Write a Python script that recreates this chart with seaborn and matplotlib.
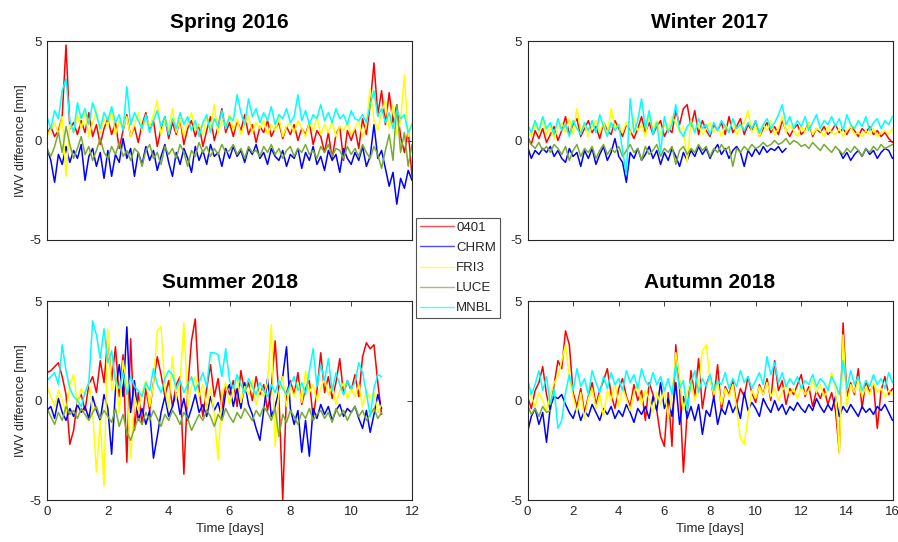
import numpy as np
import pandas as pd
import matplotlib
matplotlib.use("Agg")
import matplotlib.pyplot as plt
from matplotlib.lines import Line2D
import seaborn as sns

STATIONS = ["0401", "CHRM", "FRI3", "LUCE", "MNBL"]
COLORS = ["#ff0000", "#0000ff", "#ffff00", "#77ac30", "#00ffff"]

# ---- Spring 2016 (3-hourly, 12 days) ----
spring_days = np.linspace(0, 12, 97)
spring_0401 = [0.3, 0.7, 0.2, 0.5, 1.2, 4.8, 0.6, 0.9, 0.3,
               1.0, 0.4, 1.4, 0.2, 0.8, -0.2, 0.6, 1.1,
               0.3, 0.9, -0.4, 0.5, 1.3, 0.2, 0.7, -0.1,
               0.8, 1.4, 0.5, 1.0, -0.3, 0.6, 1.2, 0.1,
               0.9, 0.3, 1.1, -0.2, 0.6, 1.0, 0.2, 0.8,
               -0.3, 0.5, 1.2, 0.0, 0.7, 1.6, 0.4, 0.9,
               0.2, 1.0, 0.5, 1.3, 0.3, 0.8, -0.1, 0.7,
               0.4, 1.0, 0.2, 0.6, 0.9, 0.1, 0.7, 0.3,
               0.8, 0.0, 0.6, 0.3, 0.9, -0.2, 0.5, 0.2,
               -0.6, 0.4, -0.9, 0.3, 0.7, -1.0, 0.5, 0.0,
               0.6, -0.4, 1.1, 0.3, 1.8, 3.9, 1.3, 2.5,
               0.8, 2.4, 0.9, 1.8, 0.2, -0.6, 0.5, -1.8]
spring_CHRM = [-0.4, -1.0, -2.1, -0.7, -1.2, -0.3, -1.1, -0.5, -0.9,
               -0.2, -2.0, -0.8, -0.4, -1.3, -0.6, -1.9, -0.5,
               -1.8, -0.7, -1.1, 0.1, -0.9, -0.4, -1.8, -0.6,
               -1.2, -0.3, -1.0, -0.5, -1.5, -0.8, -0.2, -1.1,
               -1.8, -0.6, -1.2, -0.4, -0.9, -1.6, -0.3, -1.0,
               -0.5, -1.2, -0.2, -0.8, -0.6, -1.3, -0.4, -0.9,
               -0.3, -0.8, -0.5, -1.1, -0.4, -0.7, -0.2, -0.9,
               -0.6, -1.2, -0.4, -0.8, -1.0, -0.5, -1.3, -0.7,
               -0.9, -0.4, -1.4, -0.6, -1.0, -0.3, -1.2, -0.8,
               -1.5, -0.5, -1.0, -0.7, -1.6, -0.4, -0.9, -1.2,
               -0.6, -1.0, -0.3, -1.3, -0.8, 0.8, -0.9, -0.5,
               -1.4, -2.3, -1.6, -3.2, -1.9, -2.4, -1.5, -2.0]
spring_FRI3 = [0.2, 0.6, 0.9, 0.3, 1.2, -1.8, 0.8, 0.4, 1.3,
               0.6, 1.4, 0.2, 0.9, 1.5, 0.4, 1.1, 0.7,
               1.5, 0.3, 1.0, 0.6, 1.2, 0.2, 0.8, 1.4,
               0.5, 1.2, 0.7, 1.3, 2.0, 0.3, 1.0, 0.6,
               1.6, 0.4, 1.1, 0.2, 0.9, 1.4, 0.5, 0.8,
               0.3, 1.2, 0.6, 1.8, 0.4, 1.0, 0.7, 1.3,
               0.5, 1.1, 0.3, 0.8, 1.2, 0.4, 0.9, 0.6,
               1.0, 0.3, 0.8, 0.5, 1.1, 0.2, 0.7, 0.9,
               0.4, 1.0, 0.6, 0.2, 0.9, 0.5, 1.2, 0.3,
               0.8, 0.4, 1.0, 0.2, 0.7, 0.5, 0.9, 0.3,
               0.6, 1.0, 0.2, 0.8, 2.6, 1.0, 0.5, 1.4,
               2.0, 0.6, 1.8, 0.3, 1.0, 3.3, 0.2, 0.9]
spring_LUCE = [-0.4, -0.8, -0.3, 0.4, -0.6, 0.7, -0.2, -0.9, -0.4,
               0.2, -0.7, -0.3, -1.0, -0.5, 0.1, -0.6, -0.9,
               -0.3, -0.7, -0.1, -0.8, -0.5, -1.0, -0.4, -0.6,
               -1.3, -0.5, -0.2, -0.9, -0.6, -1.2, -0.3, -0.7,
               -0.4, -0.9, -0.2, -0.6, -1.3, -0.5, -0.8, -0.1,
               -0.6, -0.3, -0.8, -0.4, -0.7, -0.2, -0.6, -0.5,
               -0.2, -0.7, -0.4, -0.9, -0.3, -0.6, -0.5, -0.8,
               -0.3, -0.6, -0.2, -0.7, -0.4, -0.9, -0.5, -0.3,
               -0.8, -0.4, -0.6, -0.2, -0.7, -0.5, -0.9, -0.3,
               -0.6, -0.2, -0.8, -0.4, -0.5, -0.9, -0.3, -0.7,
               -0.4, -0.8, -0.2, -0.6, -0.9, -0.3, -0.7, -1.4,
               -0.5, 0.3, -1.0, 1.8, -0.6, 0.4, -1.3, -0.2]
spring_MNBL = [1.2, 0.6, 1.5, 1.1, 2.5, 3.1, 1.0, 0.4, 1.9,
               1.1, 1.6, 0.8, 1.9, 1.3, 0.6, 1.4, 1.0,
               1.7, 0.9, 1.3, 0.5, 2.7, 0.8, 1.4, 1.0,
               0.6, 1.3, 0.4, 1.0, 1.5, 0.7, 1.2, 0.3,
               1.1, 0.6, 1.4, 0.8, 1.2, 0.5, 1.0, 0.2,
               0.9, 1.3, 0.4, 1.1, 0.7, 1.5, 0.6, 1.2,
               1.0, 2.3, 1.4, 0.8, 2.1, 1.2, 1.6, 0.9,
               1.4, 1.0, 1.7, 0.8, 1.3, 1.1, 1.6, 0.9,
               1.2, 2.3, 1.0, 1.5, 0.8, 1.3, 1.1, 1.8,
               1.0, 1.4, 0.9, 1.6, 1.1, 1.3, 0.8, 1.5,
               1.1, 1.0, 1.3, 0.9, 1.8, 2.5, 1.2, 1.6,
               0.9, 1.4, 0.6, 1.5, 1.1, 1.3, 0.4, 0.8]

# ---- Winter 2017 (16 days); CHRM has a data gap ----
winter_days = np.linspace(0, 16, 97)
winter_0401 = [0.2, -0.2, 0.5, 0.1, 0.6, -0.1, 0.3, 0.7, 0.0,
               0.5, 1.2, 0.3, 0.8, 1.1, 0.2, 0.6, 1.0,
               0.4, 0.7, 0.1, 0.9, 0.5, 0.3, 1.0, 0.6,
               0.2, 0.8, 0.5, 0.1, 0.6, 1.2, 0.4, 0.9,
               0.3, 0.7, 1.0, 0.2, 0.6, 0.4, 1.5, 0.8,
               1.6, 1.8, 0.7, 1.5, 0.3, 1.0, 0.5, 0.2,
               0.8, 0.5, 0.9, 0.3, 1.2, 0.4, 0.7, 1.1,
               0.3, 0.8, 0.5, 1.0, 0.2, 0.6, 0.9, 0.4,
               0.7, 0.3, 1.0, 0.5, 0.2, 0.6, 0.8, 0.3,
               0.5, 0.9, 0.2, 0.6, 0.4, 0.7, 0.3, 0.5,
               0.8, 0.4, 0.6, 0.3, 0.7, 0.5, 0.2, 0.6,
               0.4, 0.7, 0.3, 0.5, 0.2, 0.4, 0.1, -0.1]
winter_CHRM = [-0.3, -0.9, -0.5, -0.7, -0.4, -0.6, -0.3, -0.8, -0.5,
               -0.9, -1.1, -0.4, -0.8, -0.6, -1.3, -0.5, -0.9,
               -0.4, -1.2, -0.7, -0.3, -1.0, -0.6, 0.1, -0.8,
               -1.1, -2.1, -0.6, -0.9, -0.4, -1.0, -0.7, -0.3,
               -0.9, -0.5, -1.2, -0.6, -1.0, -0.4, -0.8, -1.3,
               -0.6, -1.0, -0.5, -0.8, -0.3, -0.7, -0.4, -0.9,
               -0.5, -0.2, -0.7, -0.4, -0.9, -0.5, -0.3, -0.6,
               -1.3, -0.5, -0.8, -0.4, -0.7, -0.3, -0.6, -0.4,
               -0.5, -0.3, -0.6, -0.4,
               np.nan, np.nan, np.nan, np.nan, np.nan, np.nan, np.nan,
               np.nan, np.nan, np.nan, np.nan, np.nan, np.nan,
               -0.5, -0.9, -0.6, -1.0, -0.7, -0.5, -0.8,
               -0.4, -0.7, -0.5, -0.9, -0.6, -0.4, -0.5, -0.9]
winter_FRI3 = [0.5, 0.2, 0.8, 0.4, 1.0, 0.3, 0.7, 0.1, 0.6,
               0.9, 0.4, 1.1, 0.3, 1.6, 0.5, 0.8, 0.2,
               0.7, 1.0, 0.4, 0.9, 0.3, 1.6, 0.6, 0.8,
               0.4, 0.9, 0.3, 1.1, 0.5, 0.8, 0.2, 1.3,
               0.6, 1.0, 0.3, 0.8, 0.5, 1.2, 0.9, 0.4,
               0.7, -1.1, 1.0, 0.5, 0.8, 0.3, 0.6, 0.9,
               0.4, 0.7, 0.2, 0.8, 0.5, 1.0, 0.3, 0.6,
               0.9, 1.5, 0.4, 0.7, 0.2, 0.8, 0.5, 1.0,
               0.3, 0.6, 1.2, 0.4, 0.8, 0.5, 0.2, 0.7,
               0.4, 0.9, 0.3, 0.6, 0.5, 0.2, 0.7, 0.4,
               0.3, 0.6, 0.2, 0.5, 0.7, 0.3, 0.4, 0.2,
               0.5, 0.3, 0.6, 0.2, 0.4, 0.5, 0.3, 0.6]
winter_LUCE = [0.1, -0.2, -0.4, -0.1, -0.5, -0.3, -0.6, -0.2, -0.4,
               -0.7, -0.3, -1.0, -0.5, -0.2, -0.8, -0.4, -0.6,
               -0.3, -0.9, -0.5, -0.2, -0.7, -0.4, -0.6, -0.3,
               -0.8, -0.5, -0.2, -0.6, -0.4, -1.0, -0.3, -0.7,
               -0.5, -0.2, -0.8, -0.4, -0.6, -0.3, -1.2, -0.5,
               -0.3, -0.7, -0.4, -0.6, -0.2, -0.5, -0.3, -0.8,
               -0.4, -0.6, -0.2, -0.5, -0.3, -1.3, -0.4, -0.6,
               -0.3, -0.5, -0.2, -0.4, -0.3, -0.1, -0.3, -0.2,
               0.0, -0.2, -0.1, 0.1, -0.2, 0.0, -0.1, -0.3,
               -0.2, -0.4, -0.1, -0.3, -0.5, -0.2, -0.4, -0.6,
               -0.3, -0.5, -0.7, -0.4, -0.6, -0.3, -0.5, -0.8,
               -0.4, -0.6, -0.3, -0.5, -0.2, -0.4, -0.3, -0.2]
winter_MNBL = [0.8, 0.4, 1.0, 0.5, 1.2, 0.6, 0.9, 0.3, 1.1,
               0.5, 0.8, 0.2, 1.0, 0.6, 0.3, 0.9, 0.5,
               1.0, 0.4, 1.3, 0.7, 0.2, 0.9, 0.5, 0.8,
               -0.5, -1.7, 2.1, 0.4, 1.0, 2.1, 0.6, 1.5,
               0.3, 0.9, -0.6, 1.2, 0.4, 0.8, 1.8, 0.5,
               0.2, 0.7, 0.9, 0.4, 1.1, 0.6, 0.8, 0.3,
               0.9, 0.5, 1.0, 0.7, 0.4, 1.1, 0.6, 0.8,
               0.5, 0.9, 0.6, 1.0, 0.4, 0.8, 1.1, 0.6,
               0.9, 1.3, 1.8, 0.8, 1.2, 0.6, 1.0, 0.7,
               1.2, 0.5, 0.9, 1.3, 0.6, 1.0, 0.8, 1.2,
               0.7, 1.1, 0.5, 1.3, 0.8, 0.6, 1.0, 0.7,
               1.2, 0.5, 0.9, 1.1, 0.6, 1.0, 0.8, 1.2]

# ---- Summer 2018 (11 days) ----
summer_days = np.linspace(0, 11, 89)
summer_0401 = [1.4, 1.5, 1.7, 1.9, 1.2, 0.3, -2.2, -1.5, 0.0,
               0.3, -0.5, 0.8, 1.2, 0.4, 2.0, 0.9, 3.2,
               1.0, 2.7, 0.2, 2.3, -3.1, 3.1, -1.5, 0.4,
               -1.2, 0.6, -0.5, 0.9, 2.2, 1.3, 0.2, 1.0,
               -0.3, 0.8, 1.2, -3.7, 0.6, 3.0, 4.1, 0.5,
               -0.8, 0.6, 1.8, 0.2, 1.1, -0.4, 0.8, 0.3,
               1.0, -0.3, 1.5, 0.4, 0.9, 0.0, 1.2, 0.3,
               0.8, -0.5, 0.6, 3.0, 0.2, -5.0, 0.4, 1.0,
               0.3, 1.4, -0.2, 0.6, 1.0, -0.9, 0.5, 2.4,
               0.4, 1.2, 0.1, 0.9, 2.1, 0.3, 1.0, 0.5,
               1.3, 0.2, 2.2, 2.9, 2.6, 2.8, 0.9, -0.7]
summer_CHRM = [-0.5, -0.3, -0.9, 0.1, -0.6, -1.0, -0.4, -0.8, -0.2,
               -0.6, -0.3, -0.9, 0.2, -0.5, -1.0, 0.3, -0.4,
               -2.7, 0.5, 1.8, 0.2, 3.7, -0.6, 1.0, -1.0,
               -0.4, -1.2, -0.5, -2.9, -1.8, -0.6, 0.2, -0.8,
               -0.3, 0.4, -0.7, 0.1, -1.0, -0.4, 0.3, -0.6,
               -0.2, -0.8, 0.2, -0.5, -0.1, -0.9, 0.4, 0.8,
               -0.3, 0.6, -0.4, 0.9, -0.2, -0.7, -1.4, -2.0,
               -0.5, 1.1, -0.8, -0.3, 0.5, 1.2, 2.7, -0.4,
               -1.2, -0.5, -2.6, -1.0, -2.8, -0.4, -0.9, -0.2,
               -0.7, -0.3, -1.0, -0.5, -0.2, -0.8, -0.4, -0.6,
               -0.3, -0.9, -1.4, -0.5, -1.6, -0.7, 0.3, -0.4]
summer_FRI3 = [0.7, 0.2, -0.3, 0.5, 0.0, -0.6, 0.8, 1.3, -0.2,
               0.6, 0.3, 1.0, -0.5, -3.6, -1.0, -4.3, 3.6,
               0.5, 1.3, -0.6, 2.0, 0.8, -2.9, 0.2, -0.5,
               0.4, 1.0, -0.3, 0.8, 3.5, 3.7, 0.6, -0.4,
               2.2, 0.1, 0.9, 3.9, -0.3, 0.7, 1.2, 0.2,
               0.8, -0.4, 0.6, -0.7, -3.0, 0.3, 0.9, -0.2,
               0.5, 1.2, -0.1, 0.7, 0.3, 1.0, -0.2, 0.6,
               0.2, 0.9, 3.8, -2.3, 0.4, 1.2, -0.3, 0.7,
               0.2, 0.9, -0.1, 1.5, 0.4, 0.8, 0.0, 0.6,
               1.1, 0.3, 0.7, -0.2, 0.5, 0.9, 0.1, 0.6,
               0.2, 0.8, -0.3, 0.5, 0.1, 0.4, -0.6, -0.2]
summer_LUCE = [-0.4, -0.8, -1.2, -0.6, -1.0, -0.3, -0.7, -0.5, -0.9,
               -0.4, -0.7, -1.0, -0.6, -0.3, -0.9, -0.5, -0.8,
               -1.1, -0.4, -1.3, -0.7, -1.6, -2.0, -1.4, -0.9,
               -1.2, -0.6, -1.0, -0.5, -0.9, -1.3, -0.7, -1.0,
               -0.5, -0.8, -1.2, -0.6, -0.9, -1.5, -1.1, -0.7,
               -1.0, -0.5, -0.8, -1.3, -0.7, -1.0, -0.4, -0.8,
               -1.1, -0.6, -0.9, -0.4, -0.7, -1.0, -0.5, -0.8,
               -0.3, -0.6, -1.0, -0.4, -1.8, -0.7, -1.1, -0.5,
               -0.8, -1.2, -0.6, -0.9, -0.4, -1.0, -0.7, -0.5,
               -0.9, -0.6, -1.1, -0.4, -0.8, -0.5, -1.0, -0.6,
               -0.3, -0.8, -0.5, -1.0, -0.7, -0.4, -0.9, -0.6]
summer_MNBL = [1.0, 1.2, 1.4, 0.8, 2.8, 1.5, 0.6, 0.2, 0.0,
               -0.3, 0.4, 0.9, 4.0, 3.3, 2.1, 3.6, 1.9,
               2.5, 1.0, 0.6, 1.4, 0.3, 1.2, 0.7, 0.5,
               0.2, 0.9, 0.5, 1.6, 0.8, 0.4, 1.1, 1.5,
               1.3, 0.6, 1.0, 0.4, 0.8, 1.2, 0.5, 0.9,
               1.4, 0.7, 2.4, 2.4, 2.3, 1.2, 2.6, 1.0,
               0.6, 1.3, 0.8, 0.4, 1.1, 0.7, 0.3, 0.9,
               0.5, 0.2, 0.8, 0.4, 1.0, 0.6, 0.3, 0.8,
               1.2, 0.5, 0.9, 0.3, 1.5, 2.6, 0.7, 1.8,
               1.0, 2.1, 0.5, 1.4, 0.8, 0.3, 1.0, 0.6,
               0.9, 1.9, 1.4, 0.4, -0.8, 0.6, 1.3, 1.2]

# ---- Autumn 2018 (16 days); LUCE only reports on the first day ----
autumn_days = np.linspace(0, 16, 97)
autumn_0401 = [0.2, -0.4, 0.5, 0.9, 1.7, 0.3,
               -0.5, 0.8, 2.0, 1.6, 3.5, 2.8,
               0.4, -0.3, 0.6, -0.6, 0.2, 0.9,
               -0.2, 0.5, 1.0, 1.6, 0.3, -0.4,
               0.6, 1.1, 0.2, -0.3, 0.8, 0.0,
               0.5, -1.0, 0.9, 0.3, -0.5, -1.8,
               -2.3, 0.4, -2.3, 2.8, 0.6, -3.6,
               -0.6, 1.5, 0.2, 2.1, -0.4, 0.8,
               1.3, 0.1, 1.8, -0.5, 0.7, 0.3,
               1.0, -0.2, 0.6, 0.2, 1.2, 0.4,
               -0.1, 0.8, 0.3, 1.1, 0.0, 2.0,
               0.5, 1.0, -0.2, 0.6, 0.3, 0.8,
               1.3, 0.2, 0.7, -0.3, 0.5, 0.1,
               0.6, -0.2, 0.4, -0.5, -2.6, 3.9,
               0.2, 0.9, 0.3, 1.6, -0.4, 1.0,
               0.4, 0.8, -1.4, 0.5, 1.2, 0.3, 0.6]
autumn_CHRM = [-1.6, -0.8, -0.4, -1.2, -0.6, -2.1,
               -0.3, 0.2, 0.1, 0.3, -0.2, -0.6,
               -0.9, -0.3, -1.0, -0.5, -0.8, -0.2,
               -0.6, -1.0, -0.4, -0.7, -0.3, -0.9,
               -0.5, -0.8, -0.2, -0.6, -1.1, -0.4,
               -0.7, -0.3, -0.9, 0.2, -0.5, 0.9,
               -0.4, 0.1, -0.8, 0.9, -1.2, 0.2,
               -0.9, -0.3, -1.0, -0.2, -1.7, -0.5,
               -0.8, 0.2, -1.2, -0.4, -0.7, 0.0,
               -0.6, -0.2, -0.9, 0.4, -0.5, -0.1,
               -0.4, -0.8, 0.1, -0.3, -0.6, 0.0,
               -0.5, -0.2, -0.7, -0.3, -0.5, -0.1,
               -0.4, -0.6, -0.2, -0.5, 0.1, -0.3,
               -0.6, -0.2, -0.5, 0.2, -0.8, -0.3,
               -0.6, -0.2, -0.5, -0.8, -0.3, -0.6,
               -0.4, -0.7, -0.3, -0.5, -0.2, -0.6, -1.0]
autumn_FRI3 = [0.6, 0.2, -0.3, 0.4, 0.0, -0.5,
               0.3, 0.9, 1.2, 2.0, 2.8, 1.1,
               0.2, -0.6, 0.4, -0.9, 0.1, 0.6,
               -0.4, 0.3, -0.8, 0.5, 0.0, 0.9,
               -0.3, 0.6, 0.1, -0.5, 0.4, 0.8,
               -0.2, 0.5, 0.1, -0.6, 0.4, -0.2,
               0.6, -0.9, 0.3, 2.4, 1.2, -0.5,
               0.4, 1.0, 0.0, 0.7, 2.5, 2.8,
               1.1, 0.3, 0.9, -0.2, 0.6, 0.2,
               0.8, -0.4, -1.9, -2.2, -0.8, 0.5,
               0.1, 0.7, 0.3, 0.9, 0.2, 0.6,
               0.0, 0.5, 0.8, 0.3, 0.6, 0.1,
               0.7, 0.3, 0.5, 1.0, 0.4, 0.8,
               0.2, 0.5, 1.4, 0.6, -2.7, 3.3,
               -0.3, 0.8, 0.4, 1.0, 0.2, 0.7,
               0.3, 0.9, 0.4, 0.6, 0.2, 0.5, 0.3]
autumn_LUCE = [-0.2, -0.7, -0.4, -0.8, -0.3, -0.6, -0.5]
autumn_MNBL = [1.1, 0.3, 0.8, 1.5, 0.5, 1.2,
               -0.2, 0.6, -1.4, -1.0, 0.4, 1.3,
               0.5, 1.6, 0.7, 1.1, 0.3, 1.5,
               0.9, 0.4, 1.2, 0.6, 1.4, 0.8,
               1.1, 0.5, 1.5, 0.9, 1.3, 0.6,
               1.6, 1.0, 0.7, 1.4, 0.8, 1.2,
               0.5, 1.1, 0.3, 1.8, 0.6, 1.0,
               -0.5, 0.9, 1.5, 0.4, 1.1, 0.7,
               1.3, 0.5, 1.0, 0.8, 1.4, 0.6,
               1.1, 0.7, 1.5, 0.9, 1.2, 0.6,
               1.0, 1.4, 0.8, 2.2, 1.3, 1.9,
               0.9, 1.4, 0.7, 1.1, 0.8, 1.2,
               0.6, 1.0, 0.8, 1.3, 0.7, 1.1,
               0.9, 0.5, 1.2, 0.8, 0.3, 2.0,
               0.6, 1.5, 0.8, 1.2, 0.5, 1.0,
               0.7, 1.3, 0.8, 1.1, 0.6, 1.4, 0.9]

SEASONS = [
    ("Spring 2016", spring_days, [spring_0401, spring_CHRM, spring_FRI3, spring_LUCE, spring_MNBL], 12),
    ("Winter 2017", winter_days, [winter_0401, winter_CHRM, winter_FRI3, winter_LUCE, winter_MNBL], 16),
    ("Summer 2018", summer_days, [summer_0401, summer_CHRM, summer_FRI3, summer_LUCE, summer_MNBL], 12),
    ("Autumn 2018", autumn_days, [autumn_0401, autumn_CHRM, autumn_FRI3, autumn_LUCE, autumn_MNBL], 16),
]


def season_frame(days, series):
    """Long-form table; gaps (NaN) split a station's trace into segments."""
    parts = []
    for name, vals in zip(STATIONS, series):
        v = np.asarray(vals, dtype=float)
        seg = np.cumsum(np.isnan(v))
        df = pd.DataFrame({"days": days[:len(v)], "iwv": v,
                           "station": name, "seg": seg})
        parts.append(df.dropna())
    return pd.concat(parts, ignore_index=True)


sns.set_style("white")
plt.rcParams["font.family"] = ["Liberation Sans", "DejaVu Sans"]
plt.rcParams["axes.unicode_minus"] = False
INK = "#262626"

fig = plt.figure(figsize=(8.98, 5.42), dpi=100)
positions = [
    (47 / 898, 1 - 240 / 542, 365 / 898, 199 / 542),
    (527.5 / 898, 1 - 240 / 542, 365 / 898, 199 / 542),
    (47 / 898, 1 - 500 / 542, 365 / 898, 199 / 542),
    (527.5 / 898, 1 - 500 / 542, 365 / 898, 199 / 542),
]

for k, ((title, days, series, xmax), pos) in enumerate(zip(SEASONS, positions)):
    ax = fig.add_axes(pos)
    data = season_frame(days, series)
    sns.lineplot(data=data, x="days", y="iwv", hue="station",
                 hue_order=STATIONS, palette=COLORS, units="seg",
                 estimator=None, sort=False, linewidth=1.1,
                 legend=False, ax=ax)
    ax.set_xlim(0, xmax)
    ax.set_ylim(-5, 5)
    ax.set_yticks([-5, 0, 5])
    ax.tick_params(direction="in", top=True, right=True, length=3.5,
                   width=0.6, labelsize=9.5, colors=INK, pad=4)
    for s in ax.spines.values():
        s.set_color(INK)
        s.set_linewidth(0.8)
    ax.set_title(title, fontsize=15, fontweight="bold", pad=9, color="black")
    if k < 2:
        ax.set_xticks([])
        ax.set_xlabel("")
    else:
        ax.set_xticks(np.arange(0, xmax + 1, 2))
        ax.set_xlabel("Time [days]", fontsize=9.5, color=INK, labelpad=4)
    if k % 2 == 0:
        ax.set_ylabel("IWV difference [mm]", fontsize=9, color=INK, labelpad=2)
    else:
        ax.set_ylabel("")

handles = [Line2D([], [], color=c, lw=1.0, alpha=0.7) for c in COLORS]
leg = fig.legend(handles, STATIONS, loc="center",
                 bbox_to_anchor=(458 / 898, 1 - 268 / 542),
                 frameon=True, fancybox=False, edgecolor=INK,
                 fontsize=9.5, handlelength=2.6, handletextpad=0.15,
                 borderpad=0.3, labelspacing=0.6, borderaxespad=0)
leg.get_frame().set_linewidth(0.8)

fig.savefig("out.png", dpi=100, facecolor="white")
